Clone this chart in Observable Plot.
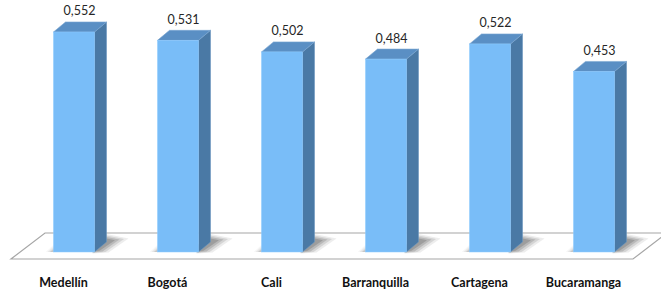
<!DOCTYPE html>
<html>
<head>
<meta charset="utf-8">
<script src="https://cdn.jsdelivr.net/npm/d3@7"></script>
<script src="https://cdn.jsdelivr.net/npm/@observablehq/plot@0.6"></script>
<style>
  html, body { margin: 0; padding: 0; background: #fff; }
  #chart svg { display: block; }
</style>
</head>
<body>
<div id="chart"></div>
<script>
const cities = ["Medellín", "Bogotá", "Cali", "Barranquilla", "Cartagena", "Bucaramanga"];
const values = [0.552, 0.531, 0.502, 0.484, 0.522, 0.453];

const data = cities.map((c, i) => ({city: c, v: values[i]}));

const FRONT = "#79bdf8", TOP = "#5a8fc4", SIDE = "#4a79a5";
const DX = 12, DY = 10, INSET = 31.5;

function floorMark(index, scales, vals, dims) {
  const g = d3.create("svg:g");
  const y0 = scales.y(0);
  const l = dims.marginLeft - 11, r = dims.width - dims.marginRight - 13;
  const front = y0 + 7, back = y0 - 19, slant = 34;
  g.append("path")
    .attr("d", `M${l},${front}L${r},${front}L${r + slant},${back}L${l + slant},${back}Z`)
    .attr("fill", "#fff").attr("stroke", "#a6a6a6").attr("stroke-width", 1.2);
  return g.node();
}

function shadowMark(index, scales, vals, dims) {
  const g = d3.create("svg:g");
  const y0 = scales.y(0);
  const bw = scales.x.bandwidth ? scales.x.bandwidth() : 104;
  const layers = [
    {grow: 8, op: 0.10},
    {grow: 5, op: 0.15},
    {grow: 2, op: 0.20},
    {grow: -1, op: 0.25}
  ];
  for (const c of cities) {
    const xl = scales.x(c) + INSET, xr = scales.x(c) + bw - INSET;
    for (const L of layers) {
      const k = L.grow;
      g.append("path")
        .attr("d", `M${xr - 2},${y0 + k * 0.2}L${xr + 6 + k},${y0 - 1 + k * 0.2}L${xr + 22 + k * 1.5},${y0 - 12 - k * 0.2}L${xr + DX},${y0 - 14 - k * 0.5}L${xr},${y0 - 8}Z`)
        .attr("fill", "#4a4a4a").attr("fill-opacity", L.op);
    }
    for (const L of layers) {
      const k = Math.max(0, L.grow) * 0.6;
      g.append("path")
        .attr("d", `M${xl - 3 - k},${y0}L${xl + 2},${y0}L${xl + 2},${y0 - 4 - k}Z`)
        .attr("fill", "#666").attr("fill-opacity", L.op * 0.6);
    }
  }
  return g.node();
}

function facesMark(index, scales, vals, dims) {
  const g = d3.create("svg:g");
  const y0 = scales.y(0);
  const bw = scales.x.bandwidth ? scales.x.bandwidth() : 104;
  data.forEach(d => {
    const xl = scales.x(d.city) + INSET, xr = scales.x(d.city) + bw - INSET;
    const yt = scales.y(d.v);
    g.append("path")
      .attr("d", `M${xr},${yt}L${xr + DX},${yt - DY}L${xr + DX},${y0 - DY}L${xr},${y0}Z`)
      .attr("fill", SIDE).attr("stroke", "#6b97c0").attr("stroke-width", 0.6);
    g.append("path")
      .attr("d", `M${xl},${yt}L${xl + DX},${yt - DY}L${xr + DX},${yt - DY}L${xr},${yt}Z`)
      .attr("fill", TOP).attr("stroke", "#7aa6d2").attr("stroke-width", 0.6);
  });
  return g.node();
}

const chart = Plot.plot({
  width: 661,
  height: 294,
  marginTop: 0,
  marginBottom: 42,
  marginLeft: 22,
  marginRight: 15,
  style: {fontFamily: "Lato, 'Open Sans', sans-serif", fontSize: "12px", background: "#fff", overflow: "visible"},
  x: {domain: cities, padding: 0, axis: null},
  y: {domain: [0, 252 / 398.6], axis: null},
  marks: [
    floorMark,
    shadowMark,
    facesMark,
    Plot.barY(data, {x: "city", y: "v", fill: FRONT, insetLeft: INSET, insetRight: INSET, stroke: "#8ccaff", strokeWidth: 0.5}),
    Plot.text(data, {x: "city", y: "v", text: d => d.v.toFixed(3).replace(".", ","), dy: -21, dx: 5, fill: "#262626", fontSize: 12.5}),
    Plot.text(cities, {x: d => d, y: () => 0, text: d => d, dy: 30, dx: -11, fontWeight: "bold", fill: "#111", fontSize: 12.5})
  ]
});
document.getElementById("chart").appendChild(chart);
</script>
</body>
</html>
